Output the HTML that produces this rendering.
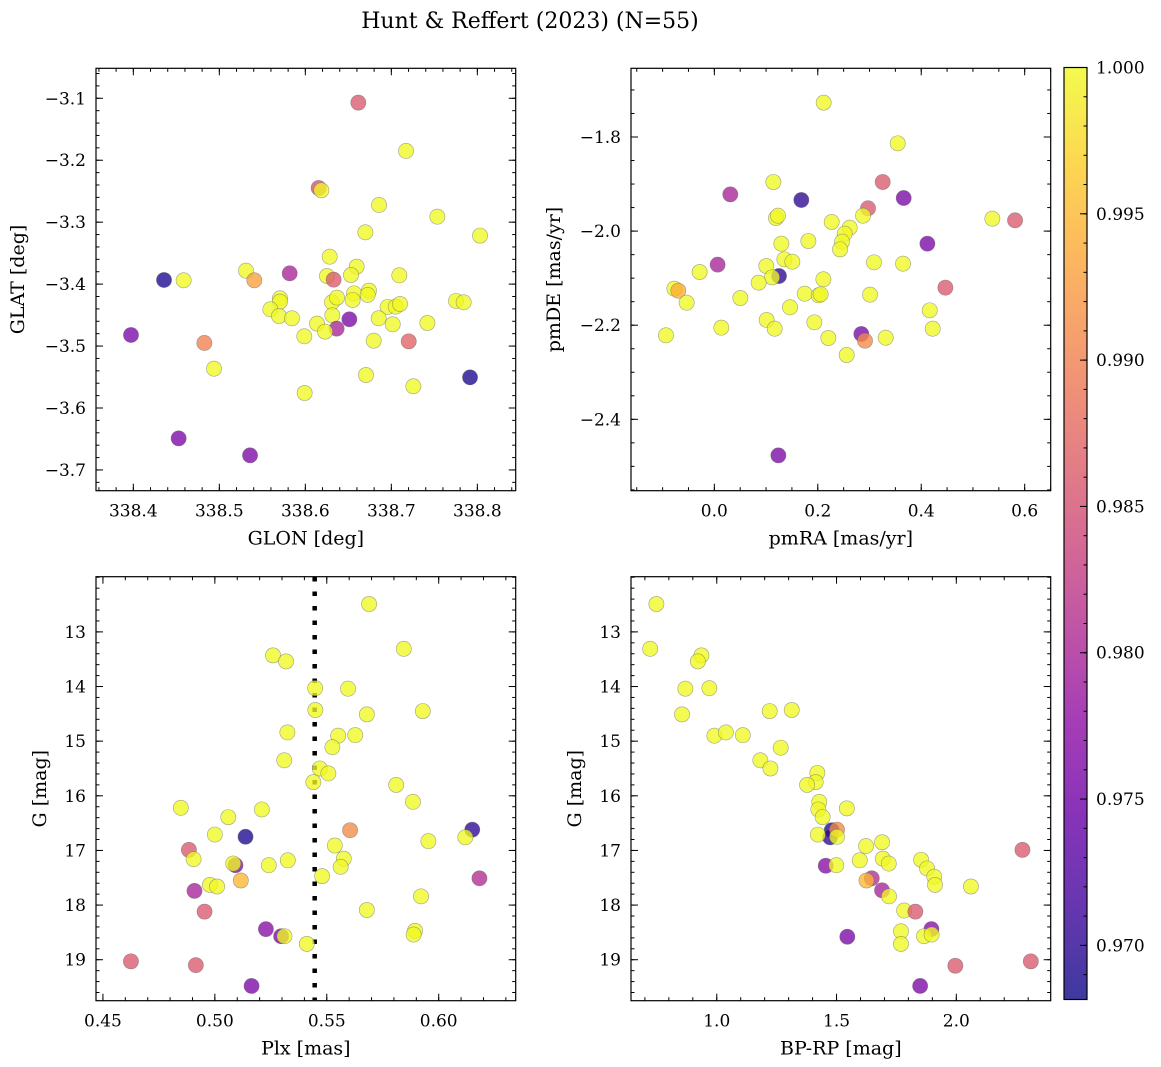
<!DOCTYPE html>
<html><head><meta charset="utf-8">
<style>
body{margin:0;background:#fff;}
svg{display:block;font-family:"DejaVu Serif","Liberation Serif",serif;}
</style></head>
<body>
<svg id="fig" width="1161" height="1067" viewBox="0 0 1161 1067">
<text x="530" y="28" text-anchor="middle" font-size="22">Hunt &amp; Reffert (2023) (N=55)</text>
</svg>
<script>
// ---- data ----
const glon=[338.6616,338.7171,338.6155,338.6186,338.6857,338.7535,338.8031,338.6698,338.6283,338.6597,338.4357,338.4585,338.5310,338.5407,338.5818,338.6252,338.6329,338.6531,338.7093,338.5705,338.5705,338.5593,338.5694,338.5845,338.6310,338.6368,338.6566,338.6550,338.6740,338.6725,338.6957,338.7050,338.7101,338.7752,338.7841,338.6314,338.6136,338.6512,338.6364,338.6229,338.6853,338.7016,338.7419,338.5988,338.6795,338.7202,338.3973,338.4826,338.4938,338.6705,338.7256,338.5992,338.7915,338.4527,338.5357];
const glat=[-3.1070,-3.1850,-3.2448,-3.2485,-3.2722,-3.2911,-3.3217,-3.3164,-3.3557,-3.3718,-3.3933,-3.3939,-3.3783,-3.3939,-3.3826,-3.3869,-3.3928,-3.3853,-3.3858,-3.4229,-3.4283,-3.4407,-3.4515,-3.4552,-3.4294,-3.4218,-3.4149,-3.4256,-3.4105,-3.4175,-3.4369,-3.4364,-3.4321,-3.4272,-3.4294,-3.4504,-3.4638,-3.4568,-3.4719,-3.4767,-3.4552,-3.4649,-3.4628,-3.4843,-3.4913,-3.4924,-3.4821,-3.4950,-3.5365,-3.5467,-3.5650,-3.5758,-3.5505,-3.6490,-3.6764];
const probPos=[0.986,1,0.985,1,1,1,1,1,1,1,0.969,1,1,0.993,0.980,1,0.986,1,1,1,1,1,1,1,1,1,1,1,1,1,1,1,1,1,1,1,1,0.976,0.980,1,1,1,1,1,1,0.987,0.976,0.990,1,1,1,1,0.969,0.976,0.976];

const pmra=[0.2114,0.3545,0.1141,0.0309,0.1682,0.3255,0.3661,0.2971,0.2875,0.1192,0.1231,0.2269,0.2617,0.2520,0.2468,0.2430,0.1818,0.1296,0.5375,0.5814,0.4119,0.0064,0.1354,0.1508,0.1005,-0.0284,0.1250,0.1115,0.2108,0.3087,0.3648,-0.0773,-0.0696,0.0857,-0.0535,0.0503,0.1747,0.2017,0.2056,0.3010,0.4467,0.1463,0.4164,0.1012,0.1934,0.0135,0.1167,0.4222,-0.0935,0.2204,0.3313,0.2842,0.2913,0.2559,0.1238];
const pmde=[-1.7270,-1.8135,-1.8956,-1.9219,-1.9339,-1.8956,-1.9297,-1.9516,-1.9672,-1.9722,-1.9672,-1.9807,-1.9927,-2.0055,-2.0225,-2.0388,-2.0210,-2.0267,-1.9736,-1.9771,-2.0267,-2.0713,-2.0600,-2.0650,-2.0742,-2.0869,-2.0954,-2.0983,-2.1025,-2.0664,-2.0692,-2.1223,-2.1266,-2.1096,-2.1521,-2.1422,-2.1330,-2.1365,-2.1344,-2.1351,-2.1202,-2.1620,-2.1684,-2.1889,-2.1939,-2.2052,-2.2074,-2.2074,-2.2215,-2.2272,-2.2265,-2.2187,-2.2329,-2.2633,-2.4766];
const probPm=[1,1,1,0.980,0.970,0.986,0.976,0.986,1,1,1,1,1,1,1,1,1,1,1,0.986,0.976,0.980,1,1,1,1,0.970,1,1,1,1,1,0.994,1,1,1,1,1,1,1,0.986,1,1,1,1,1,1,1,1,1,1,0.976,0.991,1,0.976];

const plx=[0.5689,0.5844,0.5260,0.5318,0.5448,0.5595,0.5449,0.5679,0.5929,0.5324,0.5551,0.5627,0.5525,0.5310,0.5469,0.5507,0.5440,0.5810,0.5885,0.4848,0.5210,0.5060,0.5000,0.5137,0.5604,0.6150,0.6119,0.5954,0.5536,0.4884,0.4905,0.5576,0.5562,0.5326,0.5241,0.5092,0.5082,0.5479,0.6182,0.5116,0.4978,0.5010,0.4909,0.5921,0.4954,0.5679,0.5228,0.5296,0.5311,0.5411,0.5894,0.5888,0.4625,0.4915,0.5164];
const gPlx=[12.49,13.31,13.43,13.54,14.03,14.04,14.43,14.51,14.45,14.84,14.90,14.89,15.11,15.35,15.50,15.59,15.75,15.80,16.11,16.22,16.25,16.39,16.71,16.75,16.63,16.62,16.76,16.83,16.91,16.99,17.16,17.15,17.30,17.18,17.27,17.27,17.24,17.47,17.51,17.55,17.63,17.66,17.74,17.84,18.12,18.09,18.44,18.57,18.57,18.71,18.47,18.54,19.03,19.10,19.48];
const probPlx=[1,1,1,1,1,1,1,1,1,1,1,1,1,1,1,1,1,1,1,1,1,1,1,0.969,0.991,0.970,1,1,1,0.986,1,1,1,1,1,0.977,1,1,0.981,0.995,1,1,0.980,1,0.986,1,0.977,0.976,1,1,1,1,0.986,0.986,0.976];
const clusterPlx=[0.5446];

const bprp=[0.748,0.722,0.936,0.921,0.869,0.969,0.855,1.221,1.313,0.990,1.038,1.109,1.267,1.182,1.224,1.420,1.413,1.377,1.428,1.424,1.442,1.543,1.480,1.473,1.502,1.502,1.422,1.623,1.690,1.597,1.693,1.718,1.455,1.499,1.853,1.878,1.908,1.911,2.061,2.276,1.647,1.625,1.690,1.719,1.782,1.829,1.769,1.769,1.896,1.865,1.897,1.545,1.996,2.311,1.849];
const gCmd=[12.49,13.31,13.43,13.54,14.04,14.03,14.51,14.45,14.43,14.90,14.84,14.89,15.12,15.35,15.50,15.58,15.75,15.80,16.11,16.25,16.39,16.23,16.63,16.76,16.62,16.75,16.71,16.92,16.85,17.18,17.15,17.24,17.28,17.27,17.17,17.33,17.48,17.63,17.66,16.99,17.51,17.55,17.73,17.84,18.10,18.12,18.48,18.71,18.44,18.57,18.54,18.58,19.11,19.03,19.48];
const probCmd=[1,1,1,1,1,1,1,1,1,1,1,1,1,1,1,1,1,1,1,1,1,1,0.969,0.970,0.991,1,1,1,1,1,1,1,0.977,1,1,1,1,1,1,0.986,0.981,0.995,0.980,1,1,0.986,1,1,0.977,1,1,0.976,0.986,0.986,0.976];

const cbTicks=[0.970,0.975,0.980,0.985,0.990,0.995,1.000];

// ---- helpers ----
const NS="http://www.w3.org/2000/svg";
const svg=document.getElementById('fig');
function mk(tag,attrs,parent){const e=document.createElementNS(NS,tag);for(const k in attrs)e.setAttribute(k,attrs[k]);(parent||svg).appendChild(e);return e;}
const stops=[[13,8,135],[65,4,157],[106,0,168],[143,13,164],[177,42,144],[204,71,120],[225,100,98],[242,132,75],[252,166,54],[252,206,37],[240,249,33]];
const VMIN=0.96815,VMAX=1.0;
function plasma(t){t=Math.max(0,Math.min(1,t));const f=t*10,i=Math.min(9,Math.floor(f)),r=f-i;const a=stops[i],b=stops[i+1];return 'rgb('+a.map((v,k)=>Math.round(v+(b[k]-v)*r)).join(',')+')';}
function cmap(p){return plasma((p-VMIN)/(VMAX-VMIN));}
function fmt(v,d){return v.toFixed(d).replace('-','\u2212');}

function panel(o){
  const {x0,x1,y0,y1,xmin,xmax,ymin,ymax,invertY}=o;
  const sx=v=>x0+(v-xmin)/(xmax-xmin)*(x1-x0);
  const sy=v=>invertY? y0+(v-ymin)/(ymax-ymin)*(y1-y0) : y1-(v-ymin)/(ymax-ymin)*(y1-y0);
  const g=mk('g',{});
  
  
  const eps=1e-9;
  function ticksX(step){const out=[];for(let v=Math.ceil(xmin/step-eps)*step;v<=xmax+eps;v+=step)out.push(v);return out;}
  function ticksY(step){const out=[];for(let v=Math.ceil(ymin/step-eps)*step;v<=ymax+eps;v+=step)out.push(v);return out;}
  const tk=mk('g',{stroke:'#000','stroke-width':1},g);
  
  
  ticksX(o.xminor).forEach(v=>{const X=sx(v);mk('line',{x1:X,x2:X,y1:y1,y2:y1-3.5},tk);mk('line',{x1:X,x2:X,y1:y0,y2:y0+3.5},tk);});
  ticksY(o.yminor).forEach(v=>{const Y=sy(v);mk('line',{x1:x0,x2:x0+3.5,y1:Y,y2:Y},tk);mk('line',{x1:x1,x2:x1-3.5,y1:Y,y2:Y},tk);});
  o.xticks.forEach(v=>{const X=sx(v);mk('line',{x1:X,x2:X,y1:y1,y2:y1-7},tk);mk('line',{x1:X,x2:X,y1:y0,y2:y0+7},tk);
    const t=mk('text',{x:X,y:y1+26,'text-anchor':'middle','font-size':17,stroke:'none'},g);t.textContent=fmt(v,o.xdec);
    });
  o.yticks.forEach(v=>{const Y=sy(v);mk('line',{x1:x0,x2:x0+7,y1:Y,y2:Y},tk);mk('line',{x1:x1,x2:x1-7,y1:Y,y2:Y},tk);
    const t=mk('text',{x:x0-10,y:Y+6,'text-anchor':'end','font-size':17},g);t.textContent=fmt(v,o.ydec);
    });
  const xl=mk('text',{x:(x0+x1)/2,y:y1+54,'text-anchor':'middle','font-size':19},g);xl.textContent=o.xlabel;
  
  const yl=mk('text',{x:0,y:0,'text-anchor':'middle','font-size':19,transform:`translate(${o.ylx},${(y0+y1)/2}) rotate(-90)`},g);yl.textContent=o.ylabel;
  
  const pts=mk('g',{},g);
  
  
  if(o.extra)o.extra(pts,sx,sy);
  o.xs.forEach((v,i)=>{const c=mk('circle',{cx:sx(v),cy:sy(o.ys[i]),r:7.6,fill:cmap(o.ps[i]),'fill-opacity':0.78,stroke:'#666','stroke-opacity':0.6,'stroke-width':0.6},pts);
    
    });
  mk('rect',{x:x0,y:y0,width:x1-x0,height:y1-y0,fill:'none',stroke:'#000','stroke-width':1.2},g);
}

panel({name:'position-panel',x0:96,x1:515.7,y0:68.3,y1:490.7,xmin:338.3566,xmax:338.8446,ymin:-3.7335,ymax:-3.0516,
  xticks:[338.4,338.5,338.6,338.7,338.8],xdec:1,yticks:[-3.1,-3.2,-3.3,-3.4,-3.5,-3.6,-3.7],ydec:1,xminor:0.02,yminor:0.02,
  xlabel:'GLON [deg]',ylabel:'GLAT [deg]',ylx:24,xs:glon,ys:glat,ps:probPos});
panel({name:'proper-motion-panel',x0:631,x1:1050.7,y0:68.3,y1:490.7,xmin:-0.1611,xmax:0.6503,ymin:-2.5517,ymax:-1.654,
  xticks:[0,0.2,0.4,0.6],xdec:1,yticks:[-1.8,-2.0,-2.2,-2.4],ydec:1,xminor:0.05,yminor:0.05,
  xlabel:'pmRA [mas/yr]',ylabel:'pmDE [mas/yr]',ylx:560,xs:pmra,ys:pmde,ps:probPm});
panel({name:'parallax-panel',x0:96,x1:515.7,y0:576.7,y1:1000.7,xmin:0.4469,xmax:0.6344,ymin:11.99,ymax:19.75,invertY:true,
  xticks:[0.45,0.50,0.55,0.60],xdec:2,yticks:[13,14,15,16,17,18,19],ydec:0,xminor:0.01,yminor:0.2,
  xlabel:'Plx [mas]',ylabel:'G [mag]',ylx:46,xs:plx,ys:gPlx,ps:probPlx,
  extra:(g,sx,sy)=>{clusterPlx.forEach(v=>{const l=mk('line',{x1:sx(v),x2:sx(v),y1:577,y2:1000,stroke:'#000','stroke-width':4.5,'stroke-dasharray':'4.5 10'},g);
    });}});
panel({name:'cmd-panel',x0:631,x1:1050.7,y0:576.7,y1:1000.7,xmin:0.642,xmax:2.394,ymin:11.99,ymax:19.75,invertY:true,
  xticks:[1.0,1.5,2.0],xdec:1,yticks:[13,14,15,16,17,18,19],ydec:0,xminor:0.1,yminor:0.2,
  xlabel:'BP-RP [mag]',ylabel:'G [mag]',ylx:581,xs:bprp,ys:gCmd,ps:probCmd});

(function(){
  const cx0=1064,cx1=1087,cy0=67.5,cy1=999.5;
  const cb=mk('g',{});
  
  
  const defs=mk('defs',{},cb);
  const lg=mk('linearGradient',{id:'cbg',x1:0,y1:1,x2:0,y2:0},defs);
  for(let i=0;i<=20;i++){mk('stop',{offset:i/20,'stop-color':plasma(i/20),'stop-opacity':0.8},lg);}
  mk('rect',{x:cx0,y:cy0,width:cx1-cx0,height:cy1-cy0,fill:'url(#cbg)',stroke:'#000','stroke-width':1.2},cb);
  const sy=v=>cy1-(v-VMIN)/(VMAX-VMIN)*(cy1-cy0);
  for(let v=0.969;v<=1.0005;v+=0.001){const Y=sy(v);mk('line',{x1:cx1,x2:cx1-3.5,y1:Y,y2:Y,stroke:'#000'},cb);}
  cbTicks.forEach(v=>{const Y=sy(v);mk('line',{x1:cx1,x2:cx1-7,y1:Y,y2:Y,stroke:'#000'},cb);
    const t=mk('text',{x:1096,y:Y+6,'font-size':17},cb);t.textContent=v.toFixed(3);
    });
})();
</script>
</body></html>
